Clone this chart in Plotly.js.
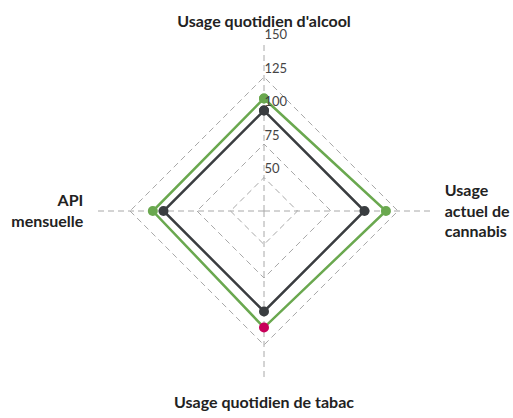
<!DOCTYPE html>
<html>
<head>
<meta charset="utf-8">
<script src="https://cdn.plot.ly/plotly-3.0.1.min.js"></script>
<style>html,body{margin:0;padding:0;background:#fff;}#chart{width:513px;height:418px;}</style>
</head>
<body>
<div id="chart"></div>
<script>
const categories = ["Usage quotidien d'alcool", "Usage<br>actuel de<br>cannabis", "Usage quotidien de tabac", "API<br>mensuelle"];
const referenceValues = [100, 100, 100, 100];
const groupValues = [109, 116, 112, 108];
const groupMarkerColors = ["#6aa84f", "#6aa84f", "#c8005a", "#6aa84f"];
const radialTicks = [50, 75, 100, 125, 150];

const close = a => a.concat([a[0]]);

const traces = [
  {
    type: 'scatterpolar',
    r: close(referenceValues),
    theta: close(categories),
    mode: 'lines+markers',
    line: {color: '#3a3d40', width: 2.5},
    marker: {color: '#3a3d40', size: 10},
    hoverinfo: 'skip',
    showlegend: false
  },
  {
    type: 'scatterpolar',
    r: close(groupValues),
    theta: close(categories),
    mode: 'lines+markers',
    line: {color: '#6aa84f', width: 2.5},
    marker: {color: close(groupMarkerColors), size: 10},
    hoverinfo: 'skip',
    showlegend: false
  }
];

const layout = {
  width: 513,
  height: 418,
  margin: {l: 96, r: 81, t: 43, b: 39},
  paper_bgcolor: '#fff',
  showlegend: false,
  font: {family: 'Lato, "Open Sans", sans-serif', color: '#222'},
  polar: {
    bgcolor: 'rgba(0,0,0,0)',
    gridshape: 'linear',
    radialaxis: {
      range: [25, 150.4],
      tickvals: radialTicks,
      ticktext: radialTicks.map(v => v + '<br> '),
      angle: 90,
      tickangle: 90,
      showline: false,
      ticks: '',
      gridcolor: '#a8a8a8',
      griddash: '6px,4px',
      gridwidth: 1,
      tickfont: {size: 13, color: '#444', family: 'Lato, sans-serif'}
    },
    angularaxis: {
      rotation: 90,
      direction: 'clockwise',
      showline: false,
      ticks: 'outside',
      ticklen: 9,
      tickcolor: 'rgba(0,0,0,0)',
      gridcolor: '#a8a8a8',
      griddash: '6px,4px',
      gridwidth: 1,
      tickfont: {size: 16, color: '#222', family: 'Lato, sans-serif', weight: 'bold'}
    }
  }
};

Plotly.newPlot('chart', traces, layout, {staticPlot: true, displayModeBar: false});
</script>
</body>
</html>
